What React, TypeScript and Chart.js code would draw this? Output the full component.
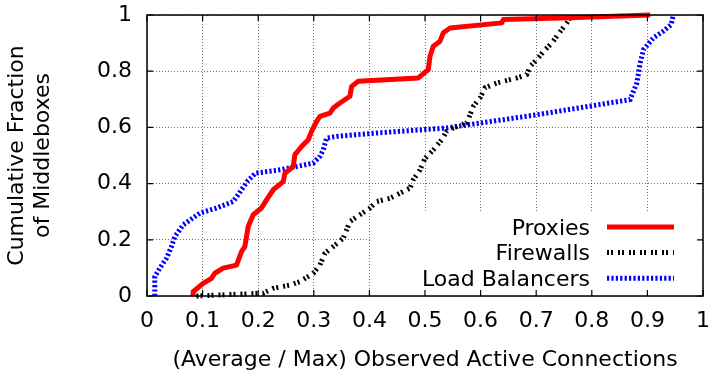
import React, { useEffect, useRef } from 'react';
import { Chart, registerables } from 'chart.js';

Chart.register(...registerables);

const seriesNames = ['Proxies', 'Firewalls', 'Load Balancers'];

const proxiesX = [0.083, 0.083, 0.101, 0.116, 0.122, 0.137, 0.161, 0.17, 0.176, 0.182, 0.191, 0.206, 0.215, 0.227, 0.245, 0.248, 0.263, 0.266, 0.278, 0.29, 0.296, 0.305, 0.311, 0.329, 0.335, 0.347, 0.365, 0.368, 0.38, 0.488, 0.506, 0.509, 0.515, 0.527, 0.533, 0.545, 0.638, 0.641, 0.761, 0.905];
const proxiesY = [0, 0.015, 0.045, 0.063, 0.081, 0.099, 0.11, 0.158, 0.176, 0.247, 0.289, 0.313, 0.342, 0.378, 0.407, 0.437, 0.461, 0.503, 0.532, 0.556, 0.586, 0.621, 0.639, 0.651, 0.669, 0.687, 0.711, 0.746, 0.764, 0.776, 0.806, 0.853, 0.889, 0.907, 0.937, 0.954, 0.972, 0.984, 0.99, 1.0];

const firewallsX = [0.089, 0.209, 0.227, 0.257, 0.275, 0.299, 0.311, 0.32, 0.335, 0.353, 0.365, 0.383, 0.401, 0.413, 0.437, 0.473, 0.479, 0.491, 0.5, 0.515, 0.53, 0.539, 0.551, 0.575, 0.581, 0.587, 0.599, 0.608, 0.629, 0.665, 0.683, 0.689, 0.701, 0.713, 0.728, 0.737, 0.746, 0.755, 0.764];
const firewallsY = [0, 0.01, 0.027, 0.039, 0.051, 0.081, 0.11, 0.152, 0.176, 0.206, 0.265, 0.289, 0.313, 0.336, 0.348, 0.384, 0.414, 0.449, 0.49, 0.52, 0.556, 0.586, 0.598, 0.616, 0.645, 0.675, 0.705, 0.741, 0.758, 0.776, 0.788, 0.817, 0.841, 0.87, 0.9, 0.924, 0.948, 0.972, 1.0];

const balancersX = [0.014, 0.014, 0.023, 0.035, 0.044, 0.05, 0.065, 0.095, 0.125, 0.155, 0.168, 0.18, 0.195, 0.239, 0.299, 0.311, 0.317, 0.323, 0.341, 0.413, 0.539, 0.701, 0.869, 0.881, 0.887, 0.893, 0.911, 0.929, 0.943, 0.946];
const balancersY = [0, 0.069, 0.099, 0.134, 0.176, 0.211, 0.253, 0.295, 0.313, 0.336, 0.372, 0.407, 0.437, 0.449, 0.473, 0.497, 0.52, 0.562, 0.568, 0.58, 0.598, 0.645, 0.699, 0.758, 0.829, 0.877, 0.919, 0.943, 0.966, 0.995];

const xTickValues = [0, 0.1, 0.2, 0.3, 0.4, 0.5, 0.6, 0.7, 0.8, 0.9, 1];
const xTickLabels = ['0', '0.1', '0.2', '0.3', '0.4', '0.5', '0.6', '0.7', '0.8', '0.9', '1'];
const yTickValues = [0, 0.2, 0.4, 0.6, 0.8, 1];
const yTickLabels = ['0', '0.2', '0.4', '0.6', '0.8', '1'];

const xTitle = '(Average / Max) Observed Active Connections';
const yTitle = ['Cumulative Fraction', 'of Middleboxes'];

const FONT = 'DejaVu Sans';

const toPoints = (xs: number[], ys: number[]) => xs.map((x, i) => ({ x, y: ys[i] }));

const zeroPadding = (scale: any) => {
  scale.paddingTop = 0;
  scale.paddingBottom = 0;
  scale.paddingLeft = 0;
  scale.paddingRight = 0;
};

const gnuplotPlugin = {
  id: 'gnuplotDecor',
  beforeDatasetsDraw(chart: any) {
    const { ctx, chartArea } = chart;
    // opaque key box
    ctx.save();
    ctx.fillStyle = '#ffffff';
    const left = chartArea.left + 225;
    const top = chartArea.top + 198;
    ctx.fillRect(left, top, chartArea.right - left - 1, chartArea.bottom - top - 1);
    ctx.restore();
  },
  afterDraw(chart: any) {
    const { ctx, chartArea } = chart;
    const xs = chart.scales.x;
    const ys = chart.scales.y;
    ctx.save();
    // frame
    ctx.strokeStyle = '#000';
    ctx.lineWidth = 1.5;
    ctx.strokeRect(chartArea.left, chartArea.top, chartArea.right - chartArea.left, chartArea.bottom - chartArea.top);
    // inner tick marks
    ctx.lineWidth = 1.2;
    const tl = 6;
    ctx.beginPath();
    xTickValues.forEach((v) => {
      const px = xs.getPixelForValue(v);
      ctx.moveTo(px, chartArea.bottom);
      ctx.lineTo(px, chartArea.bottom - tl);
      ctx.moveTo(px, chartArea.top);
      ctx.lineTo(px, chartArea.top + tl);
    });
    yTickValues.forEach((v) => {
      const py = ys.getPixelForValue(v);
      ctx.moveTo(chartArea.left, py);
      ctx.lineTo(chartArea.left + tl, py);
      ctx.moveTo(chartArea.right, py);
      ctx.lineTo(chartArea.right - tl, py);
    });
    ctx.stroke();

    // legend
    const textRight = chartArea.left + 443;
    const sampleL = chartArea.left + 460;
    const sampleR = chartArea.left + 527;
    chart.data.datasets.forEach((ds: any, i: number) => {
      const base = chartArea.top + 219.5 + 25.8 * i;
      ctx.font = `22px "${FONT}"`;
      ctx.fillStyle = '#000';
      ctx.textAlign = 'right';
      ctx.textBaseline = 'alphabetic';
      ctx.fillText(ds.label, textRight, base);
      const ly = chartArea.top + 212 + 25.6 * i;
      ctx.beginPath();
      ctx.strokeStyle = ds.borderColor;
      ctx.lineWidth = ds.borderWidth;
      ctx.lineCap = 'butt';
      ctx.setLineDash(ds.borderDash || []);
      ctx.moveTo(sampleL, ly);
      ctx.lineTo(sampleR, ly);
      ctx.stroke();
      ctx.setLineDash([]);
    });
    ctx.restore();
  },
};

export default function App() {
  const ref = useRef<HTMLCanvasElement>(null);

  useEffect(() => {
    if (!ref.current) return;
    const chart = new Chart(ref.current, {
      type: 'scatter',
      data: {
        datasets: [
          {
            label: seriesNames[0],
            data: toPoints(proxiesX, proxiesY),
            showLine: true,
            borderColor: '#ff0000',
            backgroundColor: '#ff0000',
            borderWidth: 5,
            pointRadius: 0,
            borderCapStyle: 'butt',
            borderJoinStyle: 'round',
            clip: false,
          },
          {
            label: seriesNames[1],
            data: toPoints(firewallsX, firewallsY),
            showLine: true,
            borderColor: '#000000',
            backgroundColor: '#000000',
            borderWidth: 5,
            borderDash: [2, 2, 2, 5],
            pointRadius: 0,
            borderCapStyle: 'butt',
            clip: false,
          },
          {
            label: seriesNames[2],
            data: toPoints(balancersX, balancersY),
            showLine: true,
            borderColor: '#0000ff',
            backgroundColor: '#0000ff',
            borderWidth: 5,
            borderDash: [2.2, 2.2],
            pointRadius: 0,
            borderCapStyle: 'butt',
            clip: false,
          },
        ],
      },
      options: {
        animation: false,
        responsive: false,
        maintainAspectRatio: false,
        layout: { padding: { top: 15, right: 9, left: 0, bottom: 0 } },
        plugins: { legend: { display: false }, tooltip: { enabled: false } },
        scales: {
          x: {
            type: 'linear',
            min: 0,
            max: 1,
            afterBuildTicks: (scale: any) => {
              scale.ticks = xTickValues.map((v) => ({ value: v }));
            },
            afterFit: (scale: any) => {
              scale.height = 77;
              zeroPadding(scale);
            },
            ticks: {
              callback: (_v: any, i: number) => xTickLabels[i],
              font: { family: FONT, size: 22, lineHeight: 1.2 },
              color: '#000',
              padding: 12,
              maxRotation: 0,
              autoSkip: false,
            },
            grid: { color: 'rgba(0,0,0,0.55)', lineWidth: 1, drawTicks: false },
            border: { display: false, dash: [1, 2] },
            title: {
              display: true,
              text: xTitle,
              font: { family: FONT, size: 22, lineHeight: 1.2 },
              color: '#000',
              padding: { top: 0, bottom: 0 },
            },
          },
          y: {
            type: 'linear',
            min: 0,
            max: 1,
            afterBuildTicks: (scale: any) => {
              scale.ticks = yTickValues.map((v) => ({ value: v }));
            },
            afterFit: (scale: any) => {
              scale.width = 147;
              zeroPadding(scale);
            },
            ticks: {
              callback: (_v: any, i: number) => yTickLabels[i],
              font: { family: FONT, size: 22, lineHeight: 1.2 },
              color: '#000',
              padding: 15,
              autoSkip: false,
            },
            grid: { color: 'rgba(0,0,0,0.55)', lineWidth: 1, drawTicks: false },
            border: { display: false, dash: [1, 2] },
            title: {
              display: true,
              text: yTitle,
              font: { family: FONT, size: 22, lineHeight: 1.2 },
              color: '#000',
              padding: { top: 4, bottom: 0 },
            },
          },
        },
      },
      plugins: [gnuplotPlugin],
    } as any);
    return () => chart.destroy();
  }, []);

  return (
    <div style={{ position: 'absolute', left: 0, top: 0, width: 712, height: 373 }}>
      <canvas ref={ref} width={712} height={373} style={{ width: 712, height: 373 }} />
    </div>
  );
}
